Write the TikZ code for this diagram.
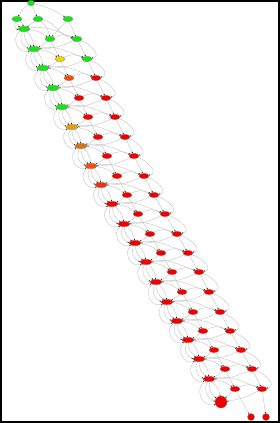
\documentclass[tikz,border=0pt]{standalone}
\usetikzlibrary{arrows.meta,shapes.geometric}
\definecolor{gr}{RGB}{20,230,20}
\definecolor{ye}{RGB}{235,215,0}
\definecolor{oy}{RGB}{225,160,10}
\definecolor{or}{RGB}{215,115,25}
\definecolor{orr}{RGB}{240,80,10}
\definecolor{ro}{RGB}{235,50,15}
\definecolor{rd}{RGB}{240,0,0}
\begin{document}
\begin{tikzpicture}[x=1pt,y=-1pt,
  st/.style={ellipse,draw=black!55,line width=0.2pt,minimum width=11pt,minimum height=5.5pt,inner sep=0pt},
  ed/.style={draw=black!28,line width=0.3pt,-{Stealth[length=1.4pt,width=1.2pt,black]}}]
\useasboundingbox (0,0) rectangle (280,423);
\fill[white] (0,0) rectangle (280,423);
\draw[line width=2pt] (1,1) rectangle (279,422);
% top part
\node[st,fill=gr,minimum width=7pt] (t) at (31,3) {};
\node[st,fill=gr,minimum width=10pt] (p) at (17,19) {};
\node[st,fill=gr,minimum width=10pt] (q) at (38,19) {};
\node[st,fill=gr,minimum width=10pt] (r) at (68,19) {};
% chain
\foreach \i/\x/\y/\cm/\ca/\cb in {
 1/24/29/gr/gr/gr, 2/34/49/gr/ye/gr, 3/43/68/gr/orr/rd, 4/53/88/gr/rd/rd,
 5/62/107/gr/rd/rd, 6/72/127/oy/rd/rd, 7/81/146/or/rd/rd, 8/91/166/orr/rd/rd,
 9/101/185/ro/rd/rd, 10/112/204/rd/rd/rd, 11/124/224/rd/rd/rd, 12/135/243/rd/rd/rd,
 13/146/262/rd/rd/rd, 14/156/282/rd/rd/rd, 15/167/302/rd/rd/rd, 16/177/321/rd/rd/rd,
 17/188/340/rd/rd/rd, 18/199/359/rd/rd/rd, 19/209/379/rd/rd/rd}{
  \node[st,fill=\cm,minimum width=12pt] (m\i) at (\x,\y) {};
  \node[st,fill=\ca,minimum width=10pt] (a\i) at (\x+26,\y+10) {};
  \node[st,fill=\cb,minimum width=10pt] (b\i) at (\x+53,\y+10) {};
}
\node[circle,draw=black!55,line width=0.2pt,fill=rd,minimum size=12pt,inner sep=0pt] (e) at (221,402) {};
\node[circle,draw=black!55,line width=0.2pt,fill=rd,minimum size=7pt,inner sep=0pt] (s1) at (251,417) {};
\node[circle,draw=black!55,line width=0.2pt,fill=rd,minimum size=7pt,inner sep=0pt] (s2) at (266,417) {};
% top edges
\draw[ed] (t) to[bend right=15] (p);
\draw[ed] (t) to (q);
\draw[ed] (t) to[bend left=10] (r);
\draw[ed] (p) to[bend right=30] (m1);
\draw[ed] (p) to[bend right=60] (m1);
\draw[ed] (p) to[bend left=20] (m1);
\draw[ed] (q) to (m1);
\draw[ed] (q) to[bend left=20] (a1);
\draw[ed] (r) to (a1);
\draw[ed] (r) to (b1);
\draw[ed] (q) to[out=-10,in=170] (b1);
% chain edges
\foreach \i in {1,...,18}{
  \pgfmathtruncatemacro\j{\i+1}
  \draw[ed] (m\i) to[bend right=25] (m\j);
  \draw[ed] (m\i) to[bend right=55] (m\j);
  \draw[ed] (m\i) to[bend right=85,looseness=1.4] (m\j);
  \draw[ed] (m\i) to[bend left=20] (m\j);
  \draw[ed] (m\i) to[bend left=15] (a\i);
  \draw[ed] (m\i) to[out=10,in=160] (b\i);
  \draw[ed] (a\i) to[bend left=10] (m\j);
  \draw[ed] (b\i) to[bend left=12] (m\j);
  \draw[ed] (a\i) to (a\j);
  \draw[ed] (b\i) to (b\j);
  \draw[ed] (a\i) to[bend left=25] (b\i);
  \draw[ed] (b\i) to[out=-20,in=10,looseness=1.3] (b\j);
}
\draw[ed] (m19) to[bend right=25] (e);
\draw[ed] (m19) to[bend right=55] (e);
\draw[ed] (m19) to[bend right=85,looseness=1.4] (e);
\draw[ed] (m19) to[bend left=20] (e);
\draw[ed] (m19) to[bend left=15] (a19);
\draw[ed] (m19) to[out=10,in=160] (b19);
\draw[ed] (a19) to (e);
\draw[ed] (b19) to[bend left=10] (e);
\draw[ed] (a19) to (s1);
\draw[ed] (b19) to (s2);
\draw[ed] (a19) to[bend left=25] (b19);
\end{tikzpicture}
\end{document}
